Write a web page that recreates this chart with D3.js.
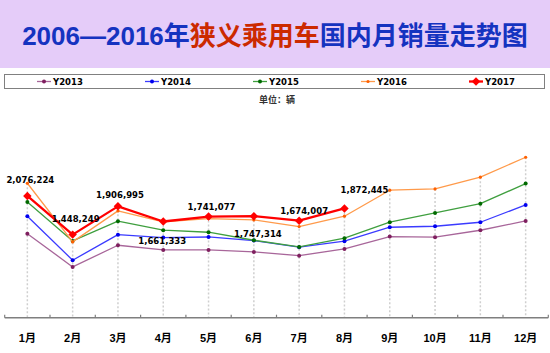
<!DOCTYPE html>
<html>
<head>
<meta charset="utf-8">
<script src="https://cdn.jsdelivr.net/npm/d3@7"></script>
<style>
  body { margin: 0; background: #fff; }
  svg { display: block; }
</style>
</head>
<body>
<div id="chart"></div>
<script>
// month categories
const months = ['1月', '2月', '3月', '4月', '5月', '6月', '7月', '8月', '9月', '10月', '11月', '12月'];

// monthly sales (vehicles)
const y2013 = [1464000, 924000, 1276000, 1200000, 1200000, 1167000, 1107000, 1216000, 1416000, 1406000, 1519000, 1670000];
const y2014 = [1747000, 1033000, 1448000, 1400000, 1410000, 1351000, 1244000, 1341000, 1568000, 1584000, 1649000, 1930000];
const y2015 = [1979000, 1346000, 1666000, 1520000, 1487000, 1357000, 1249000, 1390000, 1650000, 1800000, 1951000, 2276000];
const y2016 = [2282000, 1330000, 1833000, 1654000, 1708000, 1687000, 1578000, 1747000, 2169000, 2190000, 2380000, 2704000];
const y2017 = [2076224, 1448249, 1906995, 1661333, 1741077, 1747314, 1674007, 1872445];

const seriesNames = ['Y2013', 'Y2014', 'Y2015', 'Y2016', 'Y2017'];
const seriesValues = [y2013, y2014, y2015, y2016, y2017];

// where each 2017 label sits relative to its point
const labelOffsets = [[3, -16], [3, -16], [2, -11], [-1, 20], [3, -10], [4, 18], [5, -10], [20, -18]];

const styles = [
  { line: '#a8669a', dot: '#7f1f5f', w: 1.3, r: 2 },
  { line: '#3b3bff', dot: '#0000ee', w: 1.3, r: 2 },
  { line: '#3f9f3f', dot: '#006a00', w: 1.3, r: 2 },
  { line: '#ff9a4a', dot: '#ff6000', w: 1.3, r: 1.6 },
  { line: '#ff0000', dot: '#ff0000', w: 2.3, r: 0 }
];

const width = 550, height = 353;
const svg = d3.select('#chart').append('svg')
  .attr('width', width)
  .attr('height', height);

// title band
svg.append('rect')
  .attr('x', 0).attr('y', 0)
  .attr('width', width).attr('height', 68)
  .attr('fill', '#e5ccf9');

const title = svg.append('text')
  .attr('x', width / 2).attr('y', 45)
  .attr('text-anchor', 'middle')
  .style('font-family', '"Liberation Sans", "Noto Sans CJK SC", sans-serif')
  .style('font-weight', 'bold')
  .style('font-size', '26px');
title.append('tspan').attr('fill', '#1533c0').text('2006—2016年');
title.append('tspan').attr('fill', '#cc2a00').text('狭义乘用车');
title.append('tspan').attr('fill', '#1533c0').text('国内月销量走势图');

// legend
svg.append('rect')
  .attr('x', 4.5).attr('y', 74.5)
  .attr('width', 540).attr('height', 14)
  .attr('fill', '#fff')
  .attr('stroke', '#808080')
  .attr('stroke-width', 1);

const diamond = d3.symbol().type(d3.symbolSquare).size(36);

seriesNames.forEach((name, i) => {
  const cx = 44 + i * 108, cy = 81.5;
  const g = svg.append('g');
  g.append('line')
    .attr('x1', cx - 7).attr('x2', cx + 7)
    .attr('y1', cy).attr('y2', cy)
    .attr('stroke', styles[i].line)
    .attr('stroke-width', styles[i].w);
  if (i === 4) {
    g.append('path')
      .attr('d', diamond)
      .attr('transform', `translate(${cx},${cy}) rotate(45)`)
      .attr('fill', styles[i].dot);
  } else {
    g.append('circle')
      .attr('cx', cx).attr('cy', cy).attr('r', styles[i].r)
      .attr('fill', styles[i].dot);
  }
  g.append('text')
    .attr('x', cx + 9).attr('y', cy + 3)
    .style('font-family', '"DejaVu Sans", sans-serif')
    .style('font-weight', 'bold')
    .style('font-size', '8.5px')
    .attr('fill', '#000')
    .text(name);
});

svg.append('text')
  .attr('x', 277).attr('y', 103)
  .attr('text-anchor', 'middle')
  .style('font-family', '"Noto Sans CJK SC", sans-serif')
  .style('font-size', '9px')
  .style('font-weight', 'bold')
  .attr('fill', '#333')
  .text('单位：辆');

// scales
const x = d3.scaleBand()
  .domain(months)
  .range([4.7, 548.3])
  .padding(0);
const cx = m => x(m) + x.bandwidth() / 2;

const y = d3.scaleLinear()
  .domain([100000, 3000000])
  .range([317.7, 139]);

// drop lines from the highest point of each month
svg.append('g').selectAll('line')
  .data(months)
  .join('line')
  .attr('x1', cx).attr('x2', cx)
  .attr('y1', (m, i) => y(d3.max(seriesValues, s => s[i])))
  .attr('y2', y(100000))
  .attr('stroke', '#cfcfcf')
  .attr('stroke-width', 1.5)
  .attr('stroke-dasharray', '2,2');

// x axis with ticks at category edges
const axis = svg.append('g');
axis.append('line')
  .attr('x1', x.range()[0]).attr('x2', x.range()[1])
  .attr('y1', y(100000)).attr('y2', y(100000))
  .attr('stroke', '#7f7f7f')
  .attr('stroke-width', 1.5);
axis.selectAll('.tick')
  .data(months.concat(['end']))
  .join('line')
  .attr('class', 'tick')
  .attr('x1', m => m === 'end' ? x.range()[1] : x(m))
  .attr('x2', m => m === 'end' ? x.range()[1] : x(m))
  .attr('y1', y(100000) - 3)
  .attr('y2', y(100000))
  .attr('stroke', '#7f7f7f')
  .attr('stroke-width', 1.2);
axis.selectAll('.lbl')
  .data(months)
  .join('text')
  .attr('class', 'lbl')
  .attr('x', cx)
  .attr('y', 342)
  .attr('text-anchor', 'middle')
  .style('font-family', '"Liberation Sans", "Noto Sans CJK SC", sans-serif')
  .style('font-weight', 'bold')
  .style('font-size', '11px')
  .attr('fill', '#000')
  .text(m => m);

// series
const line = d3.line()
  .x((v, i) => cx(months[i]))
  .y(v => y(v));

seriesValues.forEach((vals, k) => {
  const st = styles[k];
  const g = svg.append('g');
  g.append('path')
    .datum(vals)
    .attr('d', line)
    .attr('fill', 'none')
    .attr('stroke', st.line)
    .attr('stroke-width', st.w)
    .attr('stroke-linejoin', 'round');
  if (k === 4) {
    g.selectAll('path.mk')
      .data(vals)
      .join('path')
      .attr('class', 'mk')
      .attr('d', diamond)
      .attr('transform', (v, i) => `translate(${cx(months[i])},${y(v)}) rotate(45)`)
      .attr('fill', st.dot);
  } else {
    g.selectAll('circle')
      .data(vals)
      .join('circle')
      .attr('cx', (v, i) => cx(months[i]))
      .attr('cy', v => y(v))
      .attr('r', st.r)
      .attr('fill', st.dot);
  }
});

// 2017 data labels
svg.append('g').selectAll('text')
  .data(y2017)
  .join('text')
  .attr('x', (v, i) => cx(months[i]) + labelOffsets[i][0])
  .attr('y', (v, i) => y(v) + labelOffsets[i][1] + 3)
  .attr('text-anchor', 'middle')
  .style('font-family', '"DejaVu Sans", sans-serif')
  .style('font-weight', 'bold')
  .style('font-size', '8.5px')
  .attr('fill', '#000')
  .text(d3.format(','));
</script>
</body>
</html>
